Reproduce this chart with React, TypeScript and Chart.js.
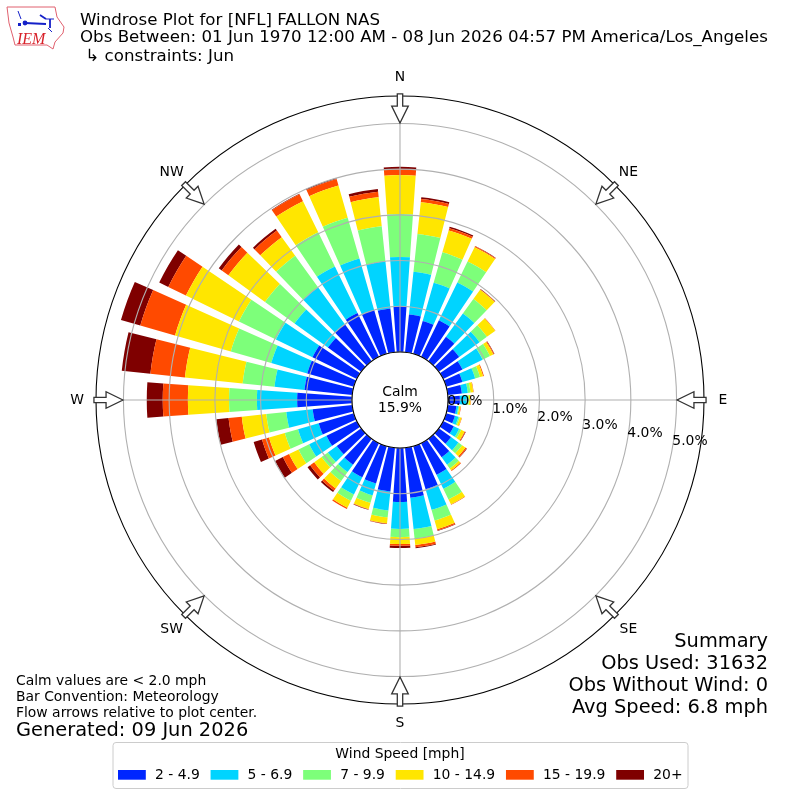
import React, { useEffect, useRef } from "react";
import { Chart, registerables, PolarAreaController } from "chart.js";

Chart.register(...registerables);

const directions = Array.from({ length: 36 }, (_, i) => `${i * 10}`);
const speedBins = ["2 - 4.9", "5 - 6.9", "7 - 9.9", "10 - 14.9", "15 - 19.9", "20+"];
const binColors = ["#0026ff", "#00d4ff", "#7dff7a", "#ffe600", "#ff4a00", "#7f0000"];
//                  N    10   20   30   40   50   60   70   80   E    100  110  120  130  140  150  160  170  S    190  200  210  220  230  240  250  260  W    280  290  300  310  320  330  340  350
const speed2to5 = [1.0, 0.83, 0.75, 0.89, 0.66, 0.55, 0.47, 0.37, 0.31, 0.26, 0.19, 0.2, 0.26, 0.33, 0.5, 0.77, 0.98, 1.1, 1.18, 0.96, 0.85, 0.83, 0.7, 0.66, 0.74, 0.8, 0.87, 1.2, 1.05, 1.06, 1.08, 0.9, 1.0, 1.07, 1.0, 0.96];
const speed5to7 = [1.08, 0.94, 0.87, 0.92, 0.63, 0.55, 0.49, 0.29, 0.13, 0.15, 0.04, 0.08, 0.13, 0.2, 0.2, 0.34, 0.47, 0.69, 0.59, 0.42, 0.27, 0.42, 0.2, 0.24, 0.42, 0.47, 0.58, 0.88, 0.66, 0.82, 0.89, 0.9, 1.0, 1.13, 1.17, 1.04];
const speed7to10 = [0.94, 0.83, 0.69, 0.51, 0.39, 0.2, 0.18, 0.11, 0.06, 0.04, 0.02, 0.03, 0.05, 0.1, 0.1, 0.26, 0.24, 0.21, 0.18, 0.15, 0.17, 0.15, 0.24, 0.17, 0.26, 0.3, 0.44, 0.61, 0.7, 0.92, 0.9, 0.8, 0.85, 0.83, 0.93, 0.77];
const speed10to15 = [0.85, 0.7, 0.5, 0.35, 0.25, 0.22, 0.08, 0.07, 0.06, 0.04, 0.03, 0.04, 0.08, 0.09, 0.05, 0.12, 0.2, 0.14, 0.15, 0.13, 0.14, 0.17, 0.2, 0.2, 0.23, 0.36, 0.54, 0.9, 1.27, 1.27, 1.29, 0.99, 0.5, 0.76, 0.73, 0.64];
const speed15to20 = [0.13, 0.07, 0.05, 0.02, 0.01, 0.01, 0.02, 0.02, 0.01, 0.01, 0.01, 0.01, 0.02, 0.03, 0.02, 0.01, 0.03, 0.05, 0.04, 0.01, 0.01, 0.03, 0.06, 0.11, 0.15, 0.16, 0.29, 0.55, 0.76, 0.79, 0.43, 0.18, 0.18, 0.17, 0.15, 0.12];
const speed20plus = [0.05, 0.04, 0.03, 0.01, 0.01, 0.0, 0.01, 0.0, 0.0, 0.0, 0.0, 0.0, 0.01, 0.01, 0.0, 0.0, 0.01, 0.02, 0.05, 0.01, 0.01, 0.0, 0.04, 0.07, 0.19, 0.19, 0.27, 0.35, 0.63, 0.44, 0.22, 0.08, 0.05, 0.01, 0.02, 0.06];
const speedSeries = [speed2to5, speed5to7, speed7to10, speed10to15, speed15to20, speed20plus];

const radialTicks = [0, 1, 2, 3, 4, 5];
const compassNames = ["N", "NE", "E", "SE", "S", "SW", "W", "NW"];
const titleLines = [
  "Windrose Plot for [NFL] FALLON NAS",
  "Obs Between: 01 Jun 1970 12:00 AM - 08 Jun 2026 04:57 PM America/Los_Angeles",
  " \u21B3 constraints: Jun",
];
const summaryLines = ["Summary", "Obs Used: 31632", "Obs Without Wind: 0", "Avg Speed: 6.8 mph"];
const noteLines = ["Calm values are < 2.0 mph", "Bar Convention: Meteorology", "Flow arrows relative to plot center."];
const generatedLine = "Generated: 09 Jun 2026";
const calmLines = ["Calm", "15.9%"];
const legendTitle = "Wind Speed [mph]";

const FAMILY = "'DejaVu Sans'";
const BAR_HALF_WIDTH = (4 * Math.PI) / 180;

class WindRoseController extends PolarAreaController {
  static id = "windrose";
  updateElements(arcs: any[], start: number, count: number, mode: any) {
    const scale = (this as any)._cachedMeta.rScale;
    const datasets = this.chart.data.datasets;
    const own = (this as any).index;
    for (let i = start; i < start + count; i++) {
      let base = 0;
      for (let d = 0; d < own; d++) base += datasets[d].data[i] as number;
      const top = base + (datasets[own].data[i] as number);
      const mid = scale.getIndexAngle(i) - Math.PI / 2;
      const options = (this as any).resolveDataElementOptions(i, mode);
      (this as any).updateElement(
        arcs[i],
        i,
        {
          x: scale.xCenter,
          y: scale.yCenter,
          innerRadius: scale.getDistanceFromCenterForValue(base),
          outerRadius: scale.getDistanceFromCenterForValue(top),
          startAngle: mid - BAR_HALF_WIDTH,
          endAngle: mid + BAR_HALF_WIDTH,
          circumference: BAR_HALF_WIDTH * 2,
          options,
        },
        mode
      );
    }
  }
}
Chart.register(WindRoseController);

function text(ctx: CanvasRenderingContext2D, s: string, x: number, y: number, size: number, align: CanvasTextAlign = "left") {
  ctx.font = `${size}px ${FAMILY}`;
  ctx.textAlign = align;
  ctx.textBaseline = "alphabetic";
  ctx.fillStyle = "#000";
  ctx.fillText(s, x, y);
}

function drawLogo(ctx: CanvasRenderingContext2D) {
  ctx.save();
  ctx.strokeStyle = "#e0606e";
  ctx.lineWidth = 1;
  ctx.beginPath();
  const outline = [[7, 7], [55, 7], [57, 17], [64, 27], [63, 33], [55, 42], [53, 49], [47, 45], [15, 45], [13, 37], [9, 23]];
  outline.forEach(([x, y], i) => (i ? ctx.lineTo(x, y) : ctx.moveTo(x, y)));
  ctx.closePath();
  ctx.stroke();
  ctx.strokeStyle = "#1420c8";
  ctx.fillStyle = "#1420c8";
  ctx.lineWidth = 1.8;
  ctx.beginPath();
  ctx.moveTo(25, 23);
  ctx.lineTo(46, 24);
  ctx.moveTo(50, 19);
  ctx.lineTo(50, 28);
  ctx.moveTo(40, 15);
  ctx.lineTo(46, 19);
  ctx.stroke();
  ctx.lineWidth = 1;
  ctx.beginPath();
  ctx.moveTo(46, 19);
  ctx.lineTo(54, 19);
  ctx.moveTo(18, 11);
  ctx.lineTo(21, 19);
  ctx.moveTo(48, 28);
  ctx.lineTo(52, 32);
  ctx.stroke();
  ctx.beginPath();
  ctx.arc(25, 23, 2.4, 0, Math.PI * 2);
  ctx.fill();
  ctx.fillRect(18, 23, 3, 3);
  ctx.fillStyle = "#d8222a";
  ctx.font = "italic 16px 'Liberation Serif'";
  ctx.textAlign = "left";
  ctx.textBaseline = "alphabetic";
  ctx.fillText("IEM", 17, 44);
  ctx.restore();
}

function drawArrow(ctx: CanvasRenderingContext2D, cx: number, cy: number, angle: number, unit: number) {
  // arrow lengths follow the outer ring: tail outside it, tip on the 5% ring
  const tail = unit * 6.695;
  const shoulder = unit * 6.43;
  const tip = unit * 6.06;
  const shaft = 2.7;
  const head = 8.3;
  ctx.save();
  ctx.translate(cx, cy);
  ctx.rotate(angle);
  ctx.beginPath();
  ctx.moveTo(0, -tip);
  ctx.lineTo(head, -shoulder);
  ctx.lineTo(shaft, -shoulder);
  ctx.lineTo(shaft, -tail);
  ctx.lineTo(-shaft, -tail);
  ctx.lineTo(-shaft, -shoulder);
  ctx.lineTo(-head, -shoulder);
  ctx.closePath();
  ctx.fillStyle = "#fff";
  ctx.fill();
  ctx.strokeStyle = "#333";
  ctx.lineWidth = 1.3;
  ctx.stroke();
  ctx.restore();
}

const decorPlugin = {
  id: "decor",
  afterDraw(chart: any) {
    const ctx: CanvasRenderingContext2D = chart.ctx;
    const scale = chart.scales.r;
    const cx = scale.xCenter;
    const cy = scale.yCenter;
    const rAt = (v: number) => scale.getDistanceFromCenterForValue(v);
    const unit = rAt(1) - rAt(0);
    ctx.save();

    // centre hole
    ctx.beginPath();
    ctx.arc(cx, cy, rAt(0), 0, Math.PI * 2);
    ctx.fillStyle = "#fff";
    ctx.fill();
    ctx.strokeStyle = "#000";
    ctx.lineWidth = 1.1;
    ctx.stroke();

    // outer frame
    ctx.beginPath();
    ctx.arc(cx, cy, scale.drawingArea, 0, Math.PI * 2);
    ctx.stroke();

    compassNames.forEach((name, i) => {
      const a = (i * Math.PI) / 4;
      drawArrow(ctx, cx, cy, a, unit);
      const r = scale.drawingArea + 19;
      ctx.font = `13.9px ${FAMILY}`;
      ctx.textAlign = "center";
      ctx.textBaseline = "middle";
      ctx.fillStyle = "#000";
      ctx.fillText(name, cx + r * Math.sin(a), cy - r * Math.cos(a) + 0.5);
    });

    // radial tick labels along a ray 10 degrees below east
    const ray = (10 * Math.PI) / 180;
    radialTicks.forEach((t) => {
      const r = rAt(t);
      text(ctx, `${t.toFixed(1)}%`, cx + r * Math.cos(ray), cy + r * Math.sin(ray) - 3, 13.9);
    });

    text(ctx, calmLines[0], cx, cy - 4, 13.9, "center");
    text(ctx, calmLines[1], cx, cy + 12, 13.9, "center");

    text(ctx, titleLines[0], 80, 25, 16.67);
    text(ctx, titleLines[1], 80, 42, 16.67);
    text(ctx, titleLines[2], 80, 61, 16.67);

    summaryLines.forEach((s, i) => text(ctx, s, 768, 647 + i * 22, 19.4, "right"));
    noteLines.forEach((s, i) => text(ctx, s, 16, 685 + i * 16, 13.9));
    text(ctx, generatedLine, 16, 736, 19.4);

    // legend
    ctx.beginPath();
    ctx.roundRect(113, 742.5, 575, 46, 3);
    ctx.fillStyle = "rgba(255,255,255,0.8)";
    ctx.fill();
    ctx.strokeStyle = "#cccccc";
    ctx.lineWidth = 1;
    ctx.stroke();
    text(ctx, legendTitle, 400, 758, 13.9, "center");
    let x = 118;
    speedBins.forEach((label, i) => {
      ctx.fillStyle = binColors[i];
      ctx.fillRect(x, 770, 27.8, 9.7);
      text(ctx, label, x + 37, 779, 13.9);
      x += 37 + ctx.measureText(label).width + 10.8;
    });

    drawLogo(ctx);
    ctx.restore();
  },
};

export default function App() {
  const ref = useRef<HTMLCanvasElement>(null);
  useEffect(() => {
    if (!ref.current) return;
    const chart = new Chart(ref.current, {
      type: "windrose" as any,
      data: {
        labels: directions,
        datasets: speedBins.map((label, i) => ({
          label,
          data: speedSeries[i],
          backgroundColor: binColors[i],
          borderWidth: 0,
        })),
      },
      options: {
        responsive: false,
        animation: false,
        layout: { padding: 96 },
        plugins: { legend: { display: false }, tooltip: { enabled: false } },
        scales: {
          r: {
            type: "radialLinear",
            min: -1.05,
            max: 5.6,
            startAngle: 0,
            afterBuildTicks: (s: any) => {
              s.ticks = radialTicks.map((value) => ({ value }));
            },
            ticks: { display: false },
            pointLabels: { display: false },
            grid: { circular: true, color: "#b0b0b0", lineWidth: 1.1, z: 1 },
            angleLines: {
              display: true,
              color: "#b0b0b0",
              lineWidth: (c: any) => (c.index % 9 === 0 ? 1.1 : 0),
            },
          },
        },
      } as any,
      plugins: [decorPlugin],
    });
    return () => chart.destroy();
  }, []);
  return (
    <div style={{ position: "absolute", left: 0, top: 0, width: 800, height: 800, background: "#fff" }}>
      <canvas ref={ref} width={800} height={800} style={{ display: "block" }} />
    </div>
  );
}
